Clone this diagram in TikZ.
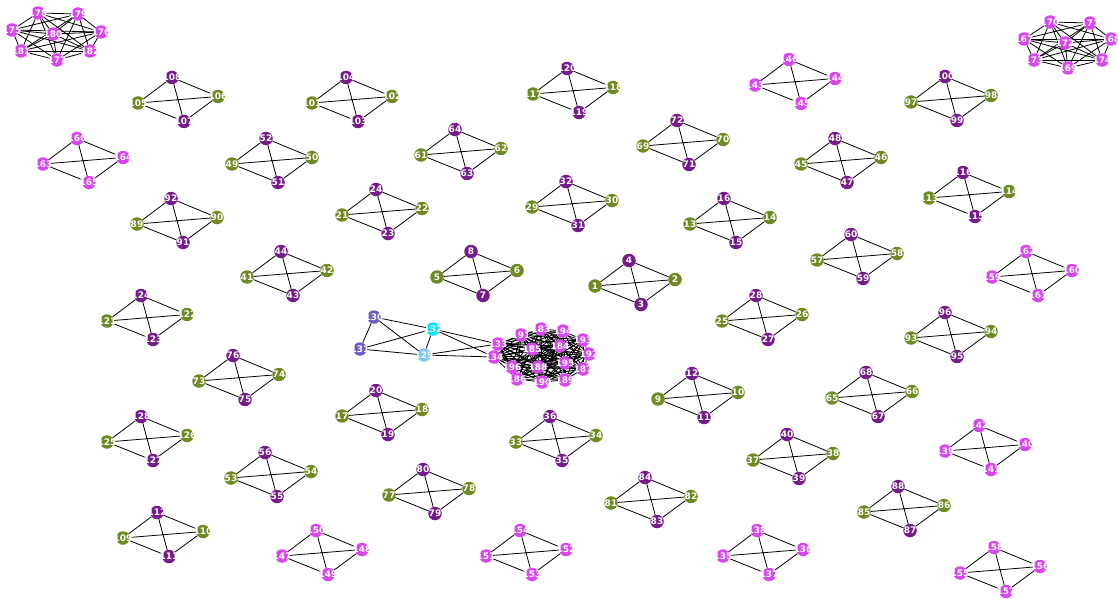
\documentclass[tikz,border=0pt]{standalone}
\usepackage{fontspec}
\setmainfont{DejaVu Sans}
\definecolor{cOl}{RGB}{110,139,34}
\definecolor{cPu}{RGB}{118,26,140}
\definecolor{cMg}{RGB}{218,69,242}
\definecolor{cSl}{RGB}{112,92,200}
\definecolor{cCy}{RGB}{0,230,255}
\definecolor{cSk}{RGB}{126,200,248}
\pgfdeclarelayer{edges}
\pgfsetlayers{edges,main}
\newcommand\lb[1]{\makebox[0pt]{#1}}
\tikzset{
  v/.style={circle, inner sep=0pt, minimum size=13.5pt, text=white, font=\fontsize{9}{9}\selectfont\bfseries},
  ol/.style={v, fill=cOl}, pu/.style={v, fill=cPu}, mg/.style={v, fill=cMg},
  sl/.style={v, fill=cSl}, cy/.style={v, fill=cCy}, sk/.style={v, fill=cSk},
  e/.style={draw=black, line width=0.8pt}
}
\newcommand\kfour[5]{%
  \pgfmathtruncatemacro\kA{#1}\pgfmathtruncatemacro\kB{#1+1}%
  \pgfmathtruncatemacro\kC{#1+2}\pgfmathtruncatemacro\kD{#1+3}%
  \node[#4] (n\kA) at (#2,#3) {\lb{\kA}};
  \node[#4] (n\kB) at (#2+80,#3-6.5) {\lb{\kB}};
  \node[#5] (n\kC) at (#2+46,#3+18.5) {\lb{\kC}};
  \node[#5] (n\kD) at (#2+34,#3-25.5) {\lb{\kD}};
  \begin{pgfonlayer}{edges}
  \draw[e] (n\kA)--(n\kB) (n\kA)--(n\kC) (n\kA)--(n\kD) (n\kB)--(n\kC) (n\kB)--(n\kD) (n\kC)--(n\kD);
  \end{pgfonlayer}
}
\begin{document}
\begin{tikzpicture}[x=1pt,y=-1pt]
\useasboundingbox (0,0) rectangle (1118,599);
% olive/purple K4s
\kfour{1}{595}{286}{ol}{pu}
\kfour{5}{437}{277}{ol}{pu}
\kfour{9}{658}{399}{ol}{pu}
\kfour{13}{690}{224}{ol}{pu}
\kfour{17}{342}{416}{ol}{pu}
\kfour{21}{342}{215}{ol}{pu}
\kfour{25}{722}{321}{ol}{pu}
\kfour{29}{532}{207}{ol}{pu}
\kfour{33}{516}{442}{ol}{pu}
\kfour{37}{753}{460}{ol}{pu}
\kfour{41}{247}{277}{ol}{pu}
\kfour{45}{801}{164}{ol}{pu}
\kfour{49}{232}{164}{ol}{pu}
\kfour{53}{231}{478}{ol}{pu}
\kfour{57}{817}{260}{ol}{pu}
\kfour{61}{421}{155}{ol}{pu}
\kfour{65}{832}{398}{ol}{pu}
\kfour{69}{643}{146}{ol}{pu}
\kfour{73}{199}{381}{ol}{pu}
\kfour{77}{389}{495}{ol}{pu}
\kfour{81}{611}{503}{ol}{pu}
\kfour{85}{864}{512}{ol}{pu}
\kfour{89}{137}{224}{ol}{pu}
\kfour{93}{911}{338}{ol}{pu}
\kfour{97}{911}{102}{ol}{pu}
\kfour{101}{312}{103}{ol}{pu}
\kfour{105}{138}{103}{ol}{pu}
\kfour{109}{123}{538}{ol}{pu}
\kfour{113}{929}{198}{ol}{pu}
\kfour{117}{533}{94}{ol}{pu}
\kfour{121}{107}{321}{ol}{pu}
\kfour{125}{107}{442}{ol}{pu}
% magenta K4s
\kfour{135}{723}{556}{mg}{mg}
\kfour{139}{945}{451}{mg}{mg}
\kfour{143}{755}{85}{mg}{mg}
\kfour{147}{282}{556}{mg}{mg}
\kfour{151}{486}{556}{mg}{mg}
\kfour{155}{960}{573}{mg}{mg}
\kfour{159}{992}{277}{mg}{mg}
\kfour{163}{43}{164}{mg}{mg}
% top-left K8
\node[mg] (n175) at (12,30) {\lb{175}};
\node[mg] (n176) at (101,32) {\lb{176}};
\node[mg] (n177) at (57,60) {\lb{177}};
\node[mg] (n178) at (38,13) {\lb{178}};
\node[mg] (n179) at (78,14) {\lb{179}};
\node[mg] (n180) at (53,34) {\lb{180}};
\node[mg] (n181) at (21,51) {\lb{181}};
\node[mg] (n182) at (90,51) {\lb{182}};
% top-right K8
\node[mg] (n167) at (1024,39) {\lb{167}};
\node[mg] (n168) at (1111,39) {\lb{168}};
\node[mg] (n169) at (1068,68) {\lb{169}};
\node[mg] (n170) at (1050,22) {\lb{170}};
\node[mg] (n171) at (1090,23) {\lb{171}};
\node[mg] (n172) at (1065,43) {\lb{172}};
\node[mg] (n173) at (1034,60) {\lb{173}};
\node[mg] (n174) at (1102,60) {\lb{174}};
% central small group
\node[sk] (n129) at (424,355) {\lb{129}};
\node[sl] (n130) at (374,317) {\lb{130}};
\node[sl] (n131) at (360,349) {\lb{131}};
\node[cy] (n132) at (433,329) {\lb{132}};
% dense cluster
\node[mg] (n133) at (498,344) {\lb{133}};
\node[mg] (n134) at (494,357) {\lb{134}};
\node[mg] (n183) at (541,329) {\lb{183}};
\node[mg] (n184) at (560,346) {\lb{184}};
\node[mg] (n185) at (532,349) {\lb{185}};
\node[mg] (n186) at (517,379) {\lb{186}};
\node[mg] (n187) at (583,369) {\lb{187}};
\node[mg] (n188) at (538,367) {\lb{188}};
\node[mg] (n189) at (565,380) {\lb{189}};
\node[mg] (n190) at (542,382) {\lb{190}};
\node[mg] (n191) at (521,335) {\lb{191}};
\node[mg] (n192) at (589,354) {\lb{192}};
\node[mg] (n193) at (583,340) {\lb{193}};
\node[mg] (n194) at (563,331) {\lb{194}};
\node[mg] (n195) at (565,363) {\lb{195}};
\node[mg] (n196) at (512,367) {\lb{196}};
\begin{pgfonlayer}{edges}
\foreach \i [count=\a] in {175,176,177,178,179,180,181,182}{
  \foreach \j [count=\b] in {175,176,177,178,179,180,181,182}{
    \ifnum\a<\b \draw[e] (n\i)--(n\j); \fi }}
\foreach \i [count=\a] in {167,168,169,170,171,172,173,174}{
  \foreach \j [count=\b] in {167,168,169,170,171,172,173,174}{
    \ifnum\a<\b \draw[e] (n\i)--(n\j); \fi }}
\foreach \i [count=\a] in {133,134,183,184,185,186,187,188,189,190,191,192,193,194,195,196}{
  \foreach \j [count=\b] in {133,134,183,184,185,186,187,188,189,190,191,192,193,194,195,196}{
    \ifnum\a<\b \draw[e] (n\i)--(n\j); \fi }}
\draw[e] (n130)--(n131) (n130)--(n132) (n130)--(n129) (n131)--(n132) (n131)--(n129) (n129)--(n132)
  (n132)--(n133) (n132)--(n134) (n129)--(n133) (n129)--(n134);
\end{pgfonlayer}
\end{tikzpicture}
\end{document}
